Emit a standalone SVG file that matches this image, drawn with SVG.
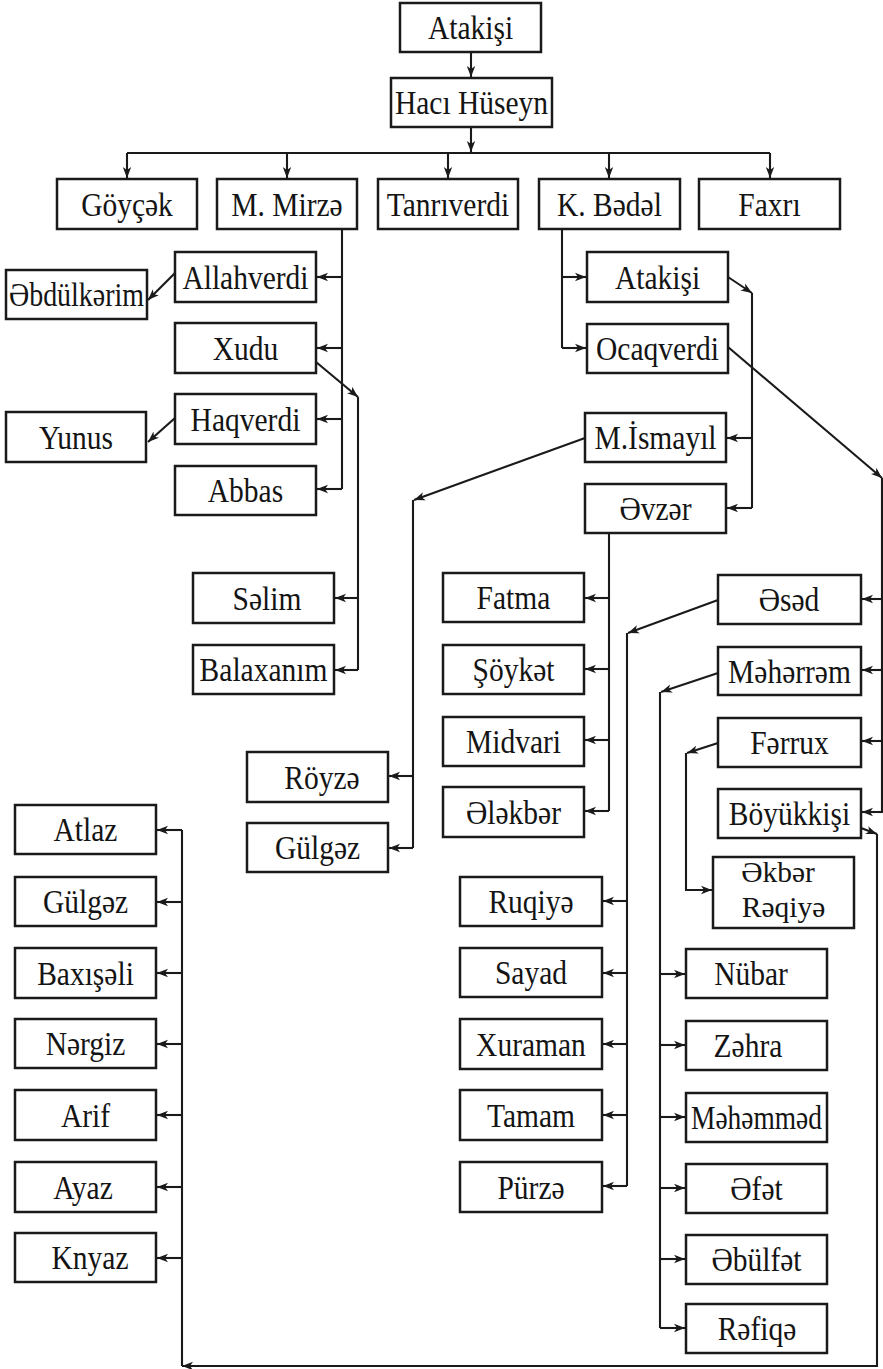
<svg xmlns="http://www.w3.org/2000/svg" width="883" height="1369" viewBox="0 0 883 1369">
<style>
.b{fill:#fff;stroke:#1a1a1a;stroke-width:2.5}
.t,.u{font-family:"Liberation Serif","DejaVu Serif",serif;font-size:29.5px;text-anchor:middle;fill:#141414}
.t{transform:scaleY(1.13);transform-box:fill-box;transform-origin:center}
.c{fill:none;stroke:#1a1a1a;stroke-width:2.1}
</style>
<defs>
<marker id="a" markerUnits="userSpaceOnUse" markerWidth="12" markerHeight="10" refX="11" refY="5" orient="auto">
<path d="M0,0.8 L11,5 L0,9.2 L3,5 z" fill="#1a1a1a"/>
</marker>
</defs>
<rect width="883" height="1369" fill="#fff"/>
<g id="connectors" class="c">
<path d="M471,52 V77" marker-end="url(#a)"/>
<path d="M471,127 V152" marker-end="url(#a)"/>
<path d="M127,153 H770"/>
<path d="M127,153 V178" marker-end="url(#a)"/>
<path d="M287,153 V178" marker-end="url(#a)"/>
<path d="M448,153 V178" marker-end="url(#a)"/>
<path d="M609,153 V178" marker-end="url(#a)"/>
<path d="M770,153 V178" marker-end="url(#a)"/>
<path d="M342,229 V489"/>
<path d="M342,277 H317" marker-end="url(#a)"/>
<path d="M342,348 H317" marker-end="url(#a)"/>
<path d="M342,419 H317" marker-end="url(#a)"/>
<path d="M342,489 H317" marker-end="url(#a)"/>
<path d="M175,273 L148,300" marker-end="url(#a)"/>
<path d="M175,418 L148,442" marker-end="url(#a)"/>
<path d="M316,362 L358,397" marker-end="url(#a)"/>
<path d="M358,397 V670"/>
<path d="M358,598 H335" marker-end="url(#a)"/>
<path d="M358,670 H335" marker-end="url(#a)"/>
<path d="M562,229 V348"/>
<path d="M562,277 H586" marker-end="url(#a)"/>
<path d="M562,348 H586" marker-end="url(#a)"/>
<path d="M728,277 L752,293" marker-end="url(#a)"/>
<path d="M752,293 V508"/>
<path d="M752,438 H727" marker-end="url(#a)"/>
<path d="M752,508 H727" marker-end="url(#a)"/>
<path d="M728,347 L882,478" marker-end="url(#a)"/>
<path d="M882,478 V812"/>
<path d="M883,599 H862" marker-end="url(#a)"/>
<path d="M883,670 H862" marker-end="url(#a)"/>
<path d="M883,741 H862" marker-end="url(#a)"/>
<path d="M883,812 H862" marker-end="url(#a)"/>
<path d="M585,438 L414,500" marker-end="url(#a)"/>
<path d="M413,500 V848"/>
<path d="M413,776 H389" marker-end="url(#a)"/>
<path d="M413,848 H389" marker-end="url(#a)"/>
<path d="M609,533 V811"/>
<path d="M609,598 H585" marker-end="url(#a)"/>
<path d="M609,669 H585" marker-end="url(#a)"/>
<path d="M609,740 H585" marker-end="url(#a)"/>
<path d="M609,811 H585" marker-end="url(#a)"/>
<path d="M718,600 L628,633" marker-end="url(#a)"/>
<path d="M627,633 V1186"/>
<path d="M627,901 H603" marker-end="url(#a)"/>
<path d="M627,973 H603" marker-end="url(#a)"/>
<path d="M627,1044 H603" marker-end="url(#a)"/>
<path d="M627,1115 H603" marker-end="url(#a)"/>
<path d="M627,1186 H603" marker-end="url(#a)"/>
<path d="M718,673 L661,692" marker-end="url(#a)"/>
<path d="M660,692 V1328"/>
<path d="M660,974 H685" marker-end="url(#a)"/>
<path d="M660,1045 H685" marker-end="url(#a)"/>
<path d="M660,1117 H685" marker-end="url(#a)"/>
<path d="M660,1188 H685" marker-end="url(#a)"/>
<path d="M660,1259 H685" marker-end="url(#a)"/>
<path d="M660,1328 H685" marker-end="url(#a)"/>
<path d="M718,743 L687,753" marker-end="url(#a)"/>
<path d="M686,753 V890 H712" marker-end="url(#a)"/>
<path d="M861,828 L877,834" marker-end="url(#a)"/>
<path d="M877,834 V1366 H182" marker-end="url(#a)"/>
<path d="M182,1366 V830"/>
<path d="M182,830 H157" marker-end="url(#a)"/>
<path d="M182,902 H157" marker-end="url(#a)"/>
<path d="M182,973 H157" marker-end="url(#a)"/>
<path d="M182,1044 H157" marker-end="url(#a)"/>
<path d="M182,1115 H157" marker-end="url(#a)"/>
<path d="M182,1187 H157" marker-end="url(#a)"/>
<path d="M182,1258 H157" marker-end="url(#a)"/>
</g>
<g id="n-atakisi"><rect class="b" x="400" y="3" width="141" height="49"/><text class="t" x="470.5" y="38">Atakişi</text></g>
<g id="n-haci"><rect class="b" x="391" y="78" width="161" height="49"/><text class="t" x="471.5" y="113">Hacı Hüseyn</text></g>
<g id="n-goycek"><rect class="b" x="57" y="179" width="140" height="50"/><text class="t" x="127" y="215">Göyçək</text></g>
<g id="n-mmirze"><rect class="b" x="217" y="179" width="140" height="50"/><text class="t" x="287" y="215">M. Mirzə</text></g>
<g id="n-tanriverdi"><rect class="b" x="378" y="179" width="140" height="50"/><text class="t" x="448" y="215">Tanrıverdi</text></g>
<g id="n-kbedel"><rect class="b" x="539" y="179" width="141" height="50"/><text class="t" x="609.5" y="215">K. Bədəl</text></g>
<g id="n-faxri"><rect class="b" x="699" y="179" width="141" height="50"/><text class="t" x="769.5" y="215">Faxrı</text></g>
<g id="n-allahverdi"><rect class="b" x="175" y="252" width="141" height="50"/><text class="t" x="245.5" y="288">Allahverdi</text></g>
<g id="n-xudu"><rect class="b" x="175" y="323" width="141" height="50"/><text class="t" x="245.5" y="359">Xudu</text></g>
<g id="n-haqverdi"><rect class="b" x="175" y="394" width="141" height="50"/><text class="t" x="245.5" y="430">Haqverdi</text></g>
<g id="n-abbas"><rect class="b" x="175" y="466" width="141" height="49"/><text class="t" x="245.5" y="501">Abbas</text></g>
<g id="n-ebdulkerim"><rect class="b" x="6" y="270" width="141" height="49"/><text class="t" x="76.5" y="305" textLength="135" lengthAdjust="spacingAndGlyphs">Əbdülkərim</text></g>
<g id="n-yunus"><rect class="b" x="6" y="412" width="140" height="50"/><text class="t" x="76" y="448">Yunus</text></g>
<g id="n-selim"><rect class="b" x="193" y="573" width="141" height="50"/><text class="t" x="267" y="609">Səlim</text></g>
<g id="n-balaxanim"><rect class="b" x="193" y="645" width="141" height="49"/><text class="t" x="263.5" y="680">Balaxanım</text></g>
<g id="n-atakisi2"><rect class="b" x="587" y="252" width="141" height="50"/><text class="t" x="657.5" y="288">Atakişi</text></g>
<g id="n-ocaqverdi"><rect class="b" x="587" y="324" width="141" height="49"/><text class="t" x="657.5" y="359">Ocaqverdi</text></g>
<g id="n-mismayil"><rect class="b" x="585" y="413" width="141" height="49"/><text class="t" x="655.5" y="448">M.İsmayıl</text></g>
<g id="n-evzer"><rect class="b" x="585" y="484" width="141" height="49"/><text class="t" x="655.5" y="519">Əvzər</text></g>
<g id="n-royze"><rect class="b" x="247" y="752" width="141" height="50"/><text class="t" x="322" y="788">Röyzə</text></g>
<g id="n-gulgez1"><rect class="b" x="247" y="823" width="141" height="49"/><text class="t" x="317.5" y="858">Gülgəz</text></g>
<g id="n-fatma"><rect class="b" x="443" y="573" width="141" height="49"/><text class="t" x="513.5" y="608">Fatma</text></g>
<g id="n-soyket"><rect class="b" x="443" y="645" width="141" height="49"/><text class="t" x="513.5" y="680">Şöykət</text></g>
<g id="n-midvari"><rect class="b" x="443" y="717" width="141" height="49"/><text class="t" x="513.5" y="752">Midvari</text></g>
<g id="n-elekber"><rect class="b" x="443" y="787" width="141" height="50"/><text class="t" x="513.5" y="823">Ələkbər</text></g>
<g id="n-esed"><rect class="b" x="718" y="575" width="143" height="49"/><text class="t" x="789" y="610">Əsəd</text></g>
<g id="n-meherrem"><rect class="b" x="718" y="647" width="143" height="48"/><text class="t" x="789.5" y="682">Məhərrəm</text></g>
<g id="n-ferrux"><rect class="b" x="718" y="718" width="143" height="49"/><text class="t" x="789.5" y="753">Fərrux</text></g>
<g id="n-boyukkisi"><rect class="b" x="718" y="789" width="143" height="49"/><text class="t" x="789.5" y="824">Böyükkişi</text></g>
<g id="n-ekber-reqiye"><rect class="b" x="713" y="857" width="141" height="71"/><text class="u" x="778" y="882">Əkbər</text><text class="u" x="783.5" y="917">Rəqiyə</text></g>
<g id="n-ruqiye"><rect class="b" x="460" y="877" width="142" height="49"/><text class="t" x="531" y="912">Ruqiyə</text></g>
<g id="n-sayad"><rect class="b" x="460" y="948" width="142" height="49"/><text class="t" x="531" y="983">Sayad</text></g>
<g id="n-xuraman"><rect class="b" x="460" y="1019" width="142" height="50"/><text class="t" x="531" y="1055">Xuraman</text></g>
<g id="n-tamam"><rect class="b" x="460" y="1090" width="142" height="50"/><text class="t" x="531" y="1126">Tamam</text></g>
<g id="n-purze"><rect class="b" x="460" y="1162" width="142" height="50"/><text class="t" x="531" y="1198">Pürzə</text></g>
<g id="n-nubar"><rect class="b" x="686" y="949" width="141" height="49"/><text class="t" x="751" y="984">Nübar</text></g>
<g id="n-zehra"><rect class="b" x="686" y="1021" width="141" height="49"/><text class="t" x="748" y="1056">Zəhra</text></g>
<g id="n-mehemmed"><rect class="b" x="686" y="1093" width="141" height="49"/><text class="t" x="756.5" y="1128" textLength="131" lengthAdjust="spacingAndGlyphs">Məhəmməd</text></g>
<g id="n-efet"><rect class="b" x="686" y="1164" width="141" height="49"/><text class="t" x="756.5" y="1199">Əfət</text></g>
<g id="n-ebulfet"><rect class="b" x="686" y="1235" width="141" height="49"/><text class="t" x="756.5" y="1270">Əbülfət</text></g>
<g id="n-refiqe"><rect class="b" x="686" y="1304" width="141" height="49"/><text class="t" x="757" y="1339">Rəfiqə</text></g>
<g id="n-atlaz"><rect class="b" x="15" y="805" width="141" height="49"/><text class="t" x="85.5" y="840">Atlaz</text></g>
<g id="n-gulgez2"><rect class="b" x="15" y="877" width="141" height="49"/><text class="t" x="85.5" y="912">Gülgəz</text></g>
<g id="n-baxiseli"><rect class="b" x="15" y="948" width="141" height="50"/><text class="t" x="85.5" y="984">Baxışəli</text></g>
<g id="n-nergiz"><rect class="b" x="15" y="1019" width="141" height="49"/><text class="t" x="85.5" y="1054">Nərgiz</text></g>
<g id="n-arif"><rect class="b" x="15" y="1090" width="141" height="50"/><text class="t" x="85.5" y="1126">Arif</text></g>
<g id="n-ayaz"><rect class="b" x="15" y="1162" width="141" height="50"/><text class="t" x="83" y="1198">Ayaz</text></g>
<g id="n-knyaz"><rect class="b" x="15" y="1233" width="141" height="49"/><text class="t" x="90" y="1268">Knyaz</text></g>
</svg>
